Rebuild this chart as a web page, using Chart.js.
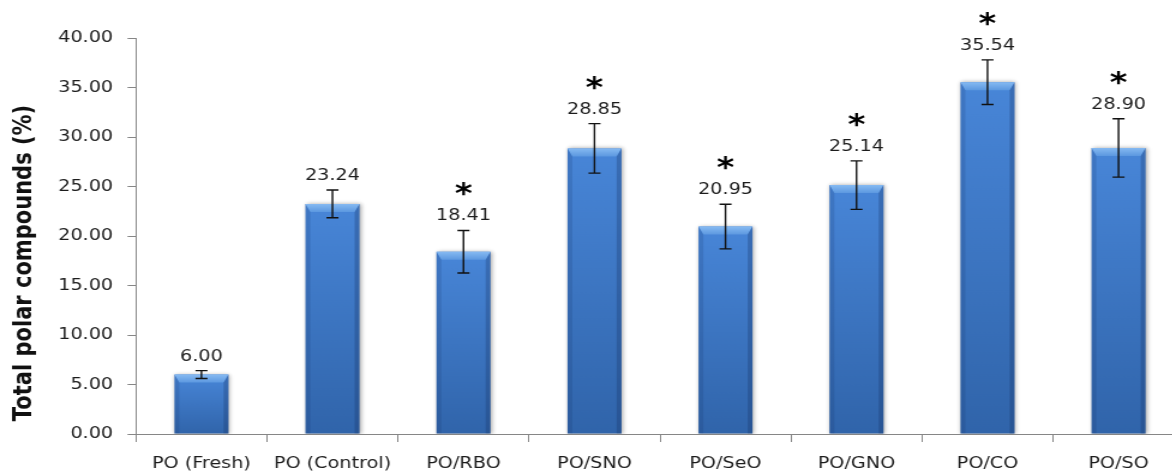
<!DOCTYPE html>
<html>
<head>
<meta charset="utf-8">
<script src="https://cdn.jsdelivr.net/npm/chart.js@4/dist/chart.umd.min.js"></script>
<style>
  html, body { margin: 0; padding: 0; overflow: hidden; background: #fff; }
  #wrap { width: 990px; height: 474px; transform: scaleX(1.2); transform-origin: 0 0; }
</style>
</head>
<body>
<div id="wrap"><canvas id="tpcChart"></canvas></div>
<script>
var categories = ["PO (Fresh)", "PO (Control)", "PO/RBO", "PO/SNO", "PO/SeO", "PO/GNO", "PO/CO", "PO/SO"];
var values = [6.00, 23.24, 18.41, 28.85, 20.95, 25.14, 35.54, 28.90];
var errors = [0.40, 1.40, 2.15, 2.50, 2.25, 2.45, 2.25, 2.95];
var marks = ["", "", "*", "*", "*", "*", "*", "*"];
var yTicks = [0, 5, 10, 15, 20, 25, 30, 35, 40];
var yTitleText = "Total polar compounds (%)";

var FONT = "'DejaVu Sans', Verdana, sans-serif";

// text centred on its glyph box rather than the em box
function drawCentered(c, text, x, cy) {
    var m = c.measureText(text);
    var asc = m.actualBoundingBoxAscent, desc = m.actualBoundingBoxDescent;
    c.fillText(text, x, cy + (asc - desc) / 2);
}

var barBevel = {
    id: "barBevel",
    beforeDatasetsDraw: function (chart) {
        var c = chart.ctx;
        c.save();
        c.shadowColor = "rgba(0,0,0,0.35)";
        c.shadowBlur = 4;
        c.shadowOffsetX = 1;
    },
    afterDatasetsDraw: function (chart) {
        var c = chart.ctx;
        c.restore();
        var yScale = chart.scales.y;
        var meta = chart.getDatasetMeta(0);
        meta.data.forEach(function (bar, i) {
            var p = bar.getProps(["x", "y", "base", "width"], true);
            var l = p.x - p.width / 2, r = p.x + p.width / 2;
            var b = 4, h = 8;

            var g = c.createLinearGradient(0, p.y, 0, p.y + h);
            g.addColorStop(0, "#86baf2");
            g.addColorStop(1, "#5c98e0");
            c.fillStyle = g;
            c.beginPath();
            c.moveTo(l, p.y); c.lineTo(r, p.y); c.lineTo(r - b, p.y + h); c.lineTo(l + b, p.y + h);
            c.closePath(); c.fill();

            c.fillStyle = "rgba(20,45,95,0.16)";
            c.beginPath();
            c.moveTo(l, p.y); c.lineTo(l + b, p.y + h); c.lineTo(l + b, p.base); c.lineTo(l, p.base);
            c.closePath(); c.fill();

            c.fillStyle = "rgba(20,45,95,0.28)";
            c.beginPath();
            c.moveTo(r, p.y); c.lineTo(r - b, p.y + h); c.lineTo(r - b, p.base); c.lineTo(r, p.base);
            c.closePath(); c.fill();

            // error bar
            var top = yScale.getPixelForValue(values[i] + errors[i]);
            var bot = yScale.getPixelForValue(values[i] - errors[i]);
            c.strokeStyle = "#111";
            c.lineWidth = 1.4;
            c.beginPath();
            c.moveTo(p.x, top); c.lineTo(p.x, bot);
            c.moveTo(p.x - 5, top); c.lineTo(p.x + 5, top);
            c.moveTo(p.x - 5, bot); c.lineTo(p.x + 5, bot);
            c.stroke();

            // value and significance mark
            c.fillStyle = "#1c1c1c";
            c.textAlign = "center";
            c.font = "16px " + FONT;
            var labelY = top - 16;
            drawCentered(c, values[i].toFixed(2), p.x, labelY);
            if (marks[i]) {
                c.fillStyle = "#000";
                c.font = "bold 28px " + FONT;
                drawCentered(c, marks[i], p.x, labelY - 25);
            }
        });
    }
};

var yTitle = {
    id: "yTitle",
    afterDraw: function (chart) {
        var c = chart.ctx;
        var area = chart.chartArea;
        c.save();
        c.translate(20.6, (area.top + area.bottom) / 2 + 27);
        c.rotate(-Math.PI / 2);
        c.font = "bold 21px " + FONT;
        c.fillStyle = "#111";
        c.textAlign = "center";
        c.textBaseline = "middle";
        c.fillText(yTitleText, 0, 0);
        c.restore();
    }
};

function barFill(ctx) {
    var chart = ctx.chart;
    if (!chart.chartArea) return "#3f7bc9";
    var y = chart.scales.y;
    var top = y.getPixelForValue(values[ctx.dataIndex]);
    var g = chart.ctx.createLinearGradient(0, top, 0, y.getPixelForValue(0));
    g.addColorStop(0, "#4886d8");
    g.addColorStop(1, "#3064aa");
    return g;
}

document.addEventListener("DOMContentLoaded", function () {
    var ctx = document.getElementById("tpcChart").getContext("2d");
    new Chart(ctx, {
        type: "bar",
        data: {
            labels: categories,
            datasets: [{
                label: yTitleText,
                data: values,
                backgroundColor: barFill,
                borderWidth: 0,
                barPercentage: 0.412,
                categoryPercentage: 1
            }]
        },
        options: {
            responsive: true,
            maintainAspectRatio: false,
            animation: false,
            layout: { padding: { top: 38, right: 3.3, bottom: 0, left: 0 } },
            plugins: {
                legend: { display: false },
                tooltip: { enabled: false }
            },
            scales: {
                x: {
                    grid: { drawOnChartArea: false, drawTicks: true, tickLength: 8, color: "#868686", offset: true },
                    border: { color: "#868686", width: 1 },
                    ticks: { color: "#1c1c1c", padding: 12, font: { family: FONT, size: 16 }, maxRotation: 0, autoSkip: false },
                    afterFit: function (s) { s.height = 40; }
                },
                y: {
                    min: 0,
                    max: 40,
                    afterBuildTicks: function (s) { s.ticks = yTicks.map(function (v) { return { value: v }; }); },
                    grid: { drawOnChartArea: false, drawTicks: true, tickLength: 7, color: "#868686" },
                    border: { color: "#868686", width: 1 },
                    ticks: {
                        color: "#1c1c1c",
                        padding: 12,
                        font: { family: FONT, size: 16 },
                        callback: function (v) { return Number(v).toFixed(2); }
                    },
                    afterFit: function (s) { s.width = 113.3; }
                }
            }
        },
        plugins: [barBevel, yTitle]
    });
});
</script>
</body>
</html>
